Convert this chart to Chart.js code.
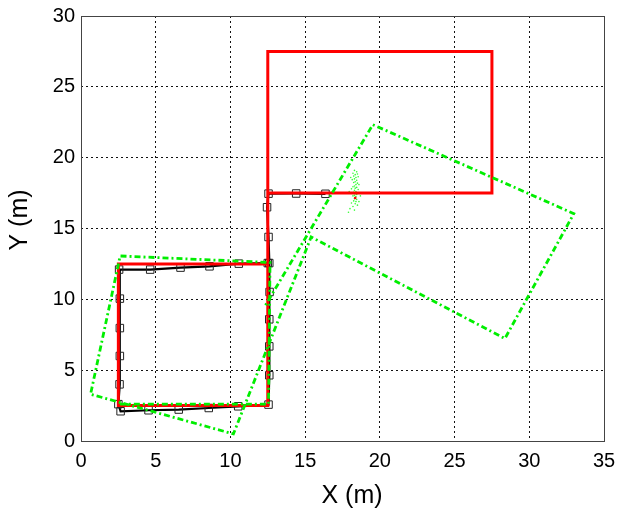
<!DOCTYPE html>
<html>
<head>
<meta charset="utf-8">
<script src="https://cdn.jsdelivr.net/npm/chart.js@4"></script>
<style>
  html, body { margin: 0; padding: 0; background: #fff; }
  #wrap { width: 618px; height: 515px; }
</style>
</head>
<body>
<div id="wrap"><canvas id="chart" width="618" height="515"></canvas></div>
<script>
// axis ranges / ticks
const xTicks = [0, 5, 10, 15, 20, 25, 30, 35];
const yTicks = [0, 5, 10, 15, 20, 25, 30];

// ground truth path (red)
const truthX = [12.5, 2.5, 2.5, 12.5, 12.5, 27.5, 27.5, 12.5];
const truthY = [12.5, 12.5, 2.5, 2.5, 27.5, 27.5, 17.5, 17.5];

// estimated trajectory with square markers (black)
const estX = [12.5, 10.56, 8.6, 6.66, 4.63, 2.55, 2.6, 2.6, 2.6, 2.58, 2.5, 2.65,
              4.52, 6.54, 8.55, 10.52, 12.55, 12.6, 12.6, 12.6, 12.62, 12.6, 12.55, 12.45, 12.55,
              14.4, 16.36];
const estY = [12.56, 12.52, 12.33, 12.24, 12.1, 12.1, 10.05, 7.97, 6.0, 4.0, 2.6, 2.1,
              2.17, 2.22, 2.33, 2.45, 2.57, 4.64, 6.68, 8.59, 10.52, 12.56, 14.4, 16.5, 17.46,
              17.47, 17.45];

// odometry path (green dash-dot)
const odoX = [2.6, 12.55, 12.65, 2.62, 0.64, 10.2, 15.4, 28.37, 32.98, 19.53, 12.3];
const odoY = [2.6, 2.6, 12.6, 13.06, 3.3, 0.5, 14.4, 7.23, 16.05, 22.33, 9.5];

// particle cloud (green dots) and current true position (red dot)
const partX = [18.3, 18.45, 18.2, 18.5, 18.35, 18.25, 18.55, 18.4, 18.3, 18.15, 18.45, 18.35, 18.25, 18.5,
               18.4, 18.3, 18.2, 18.45, 18.35, 18.1, 18.55, 18.3, 18.4, 18.25, 18.35, 18.45, 18.3, 18.2,
               18.4, 18.35, 18.3, 18.45, 18.25, 18.4, 18.1, 18.35, 18.5, 18.2, 18.0, 18.3, 17.9, 18.6,
               17.95, 18.7, 18.05, 18.6];
const partY = [19.1, 19.0, 18.9, 18.85, 18.8, 18.7, 18.65, 18.6, 18.5, 18.45, 18.4, 18.3, 18.25, 18.2,
               18.1, 18.0, 17.95, 17.9, 17.85, 17.8, 17.75, 17.7, 17.6, 17.55, 17.45, 17.4, 17.35, 17.3,
               17.25, 17.2, 17.1, 17.05, 16.95, 16.9, 16.8, 16.75, 16.65, 16.55, 16.4, 16.3, 16.15, 18.1,
               17.6, 17.3, 18.6, 16.9];
const trueNowX = [18.35];
const trueNowY = [17.15];

const toXY = (xs, ys) => xs.map((x, i) => ({ x: x, y: ys[i] }));

const FONT = "'Liberation Sans', Arial, Helvetica, sans-serif";

// box around the plot + axis labels
const frame = {
    id: 'frame',
    afterDraw(chart) {
        const ctx = chart.ctx;
        const a = chart.chartArea;
        ctx.save();
        ctx.setLineDash([]);
        ctx.strokeStyle = '#444';
        ctx.lineWidth = 1;
        ctx.strokeRect(Math.round(a.left) + 0.5, Math.round(a.top) + 0.5,
            Math.round(a.right - a.left), Math.round(a.bottom - a.top));
        ctx.fillStyle = '#000';
        ctx.font = '25px ' + FONT;
        ctx.textAlign = 'center';
        ctx.textBaseline = 'alphabetic';
        ctx.fillText('X (m)', 352, 503);
        ctx.translate(27, 220);
        ctx.rotate(-Math.PI / 2);
        ctx.fillText('Y (m)', 0, 0);
        ctx.restore();
    }
};

const gridColor = (ctx) => {
    const v = ctx.tick && ctx.tick.value;
    const s = ctx.scale;
    return (v === s.min || v === s.max) ? 'rgba(0,0,0,0)' : '#111';
};

new Chart(document.getElementById('chart'), {
    type: 'scatter',
    data: {
        datasets: [
            {
                label: 'now',
                data: toXY(trueNowX, trueNowY),
                showLine: false,
                pointRadius: 1.3,
                pointBackgroundColor: '#ff0000',
                pointBorderWidth: 0
            },
            {
                label: 'odometry',
                data: toXY(odoX, odoY),
                showLine: true,
                borderColor: '#00ee00',
                borderWidth: 2.8,
                borderDash: [6, 3, 2, 3],
                pointRadius: 0,
                tension: 0
            },
            {
                label: 'truth',
                data: toXY(truthX, truthY),
                showLine: true,
                borderColor: '#ff0000',
                borderWidth: 3,
                pointRadius: 0,
                tension: 0
            },
            {
                label: 'estimate',
                data: toXY(estX, estY),
                showLine: true,
                borderColor: '#000',
                borderWidth: 2.2,
                pointStyle: 'rect',
                pointRadius: 5.3,
                pointBorderColor: '#222',
                pointBorderWidth: 1,
                pointBackgroundColor: 'rgba(0,0,0,0)',
                tension: 0
            },
            {
                label: 'particles',
                data: toXY(partX, partY),
                showLine: false,
                pointRadius: 0.8,
                pointBackgroundColor: '#33ff33',
                pointBorderWidth: 0
            }
        ]
    },
    options: {
        responsive: false,
        animation: false,
        layout: { padding: { top: 16, right: 14, left: 0, bottom: 0 } },
        plugins: {
            legend: { display: false },
            tooltip: { enabled: false }
        },
        scales: {
            x: {
                type: 'linear',
                min: 0, max: 35,
                afterFit: (s) => { s.height = 74; s.paddingLeft = 0; s.paddingRight = 0; },
                afterBuildTicks: (s) => { s.ticks = xTicks.map(v => ({ value: v })); },
                border: { display: false, dash: [2, 3] },
                grid: { color: gridColor, lineWidth: 1, drawTicks: false },
                ticks: { color: '#000', padding: 8, font: { family: FONT, size: 20 } }
            },
            y: {
                type: 'linear',
                min: 0, max: 30,
                afterFit: (s) => { s.width = 81; s.paddingTop = 0; s.paddingBottom = 0; },
                afterBuildTicks: (s) => { s.ticks = yTicks.map(v => ({ value: v })); },
                border: { display: false, dash: [2, 3] },
                grid: { color: gridColor, lineWidth: 1, drawTicks: false },
                ticks: { color: '#000', padding: 6, font: { family: FONT, size: 20 } }
            }
        }
    },
    plugins: [frame]
});
</script>
</body>
</html>
